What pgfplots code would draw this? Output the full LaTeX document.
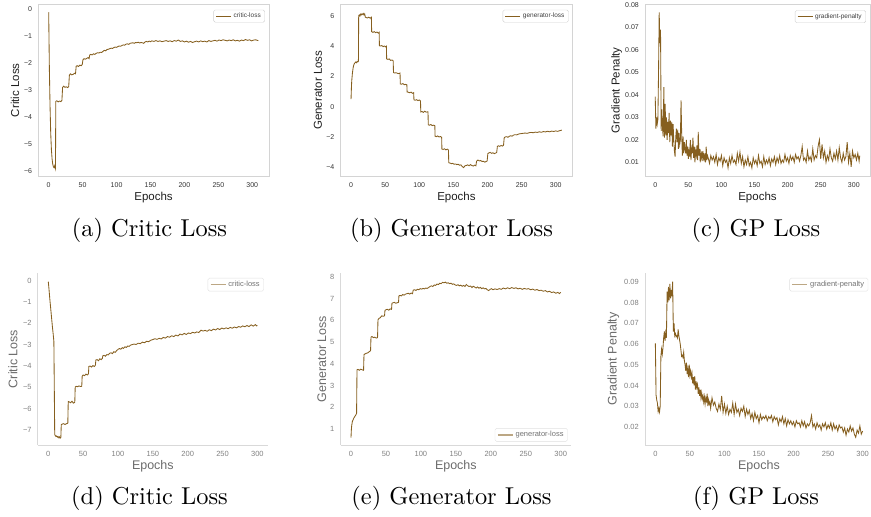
\documentclass[border=0pt]{standalone}
\usepackage{fontspec}
\usepackage{pgfplots}
\pgfplotsset{compat=1.18}
\newfontfamily\axfont{Liberation Sans}
\definecolor{lc}{RGB}{134,95,31}
\pgfplotsset{
  ln/.style={color=lc, line width=0.85pt, mark=none},
  gstyle/.style={scale only axis, major tick length=0pt, tick style={draw=none},
    xtick={0,50,100,150,200,250,300}, scaled ticks=false,
    /pgf/number format/assume math mode=true,
    xticklabel style={anchor=north, inner sep=0pt, yshift=-6.5pt},
    yticklabel style={anchor=east, inner sep=0pt, xshift=-6pt},
    legend cell align=left,
    legend style={rounded corners=1.5pt, fill=white, inner xsep=2pt, inner ysep=1pt},
  },
  toprow/.style={gstyle, height=171.5pt, axis line style={draw=black!17, line width=0.8pt},
    tick label style={font=\fontsize{7}{8}\axfont, text=black!80},
    label style={font=\fontsize{11.5}{13}\axfont, text=black!88},
    xlabel style={at={(axis description cs:0.5,-0.14)}, anchor=base},
    legend style={font=\fontsize{6.5}{7.5}\axfont, text=black!75, draw=black!18},
    legend image code/.code={\draw[lc, line width=1pt] (0pt,0pt) -- (15pt,0pt);},
  },
  botrow/.style={gstyle, height=172pt, axis x line*=bottom, axis y line*=left,
    axis line style={-, draw=black!15, line width=0.8pt},
    tick label style={font=\fontsize{7.5}{9}\axfont, text=black!50},
    label style={font=\fontsize{12.5}{14}\axfont, text=black!58},
    xlabel style={at={(axis description cs:0.5,-0.142)}, anchor=base},
    legend style={font=\fontsize{7.5}{8.5}\axfont, text=black!55, draw=black!12},
    legend image code/.code={\draw[lc!55, line width=1.6pt] (0pt,0pt) -- (15pt,0pt);},
  },
}
\begin{document}
\begin{tikzpicture}
\useasboundingbox (0,0) rectangle (871pt,517pt);
% (a)
\begin{axis}[toprow, at={(38.2pt,341pt)}, anchor=south west, width=230.7pt,
  xmin=-15.45, xmax=324.45, ymin=-6.185, ymax=0.167,
  ytick={-6,-5,-4,-3,-2,-1,0}, yticklabels={−6,−5,−4,−3,−2,−1,0},
  xlabel={Epochs}, ylabel={Critic Loss},
  ylabel style={at={(axis description cs:-0.1006,0.5)}, anchor=center},
  legend style={at={(0.983,0.969)}, anchor=north east}]
\addplot[ln] coordinates {(0,-0.12) (1,-2.2) (2,-3.6) (3,-4.6) (4,-5.2) (5,-5.55) (6,-5.75) (7,-5.85) (8,-5.88) (9,-5.80) (10,-5.90)
(10.5,-3.42) (12,-3.40) (14,-3.44) (16,-3.41) (18,-3.43) (19.5,-3.38) (20.5,-2.90) (22,-2.86) (24,-2.90) (26,-2.88) (28,-2.91) (29.5,-2.87)
(30.5,-2.45) (32,-2.40) (34,-2.44) (36,-2.42) (38,-2.38) (39.5,-2.40) (40.5,-2.12) (42,-2.10) (44,-2.13) (46,-2.08) (48,-2.10) (49.5,-2.05)
(50.5,-1.88) (52,-1.84) (54,-1.86) (56,-1.83) (58,-1.80) (59.5,-1.84) (60.5,-1.70) (62,-1.68) (64,-1.70) (66,-1.66) (68,-1.68) (70,-1.64)
(72,-1.62) (74,-1.63) (76,-1.60) (78,-1.61) (80,-1.57) (82,-1.53) (84,-1.55) (86,-1.50) (88,-1.49) (90,-1.47) (92,-1.45) (94,-1.46)
(96,-1.43) (98,-1.41) (100,-1.42) (102,-1.39) (104,-1.37) (106,-1.38) (108,-1.35) (110,-1.33) (112,-1.34) (114,-1.30) (116,-1.29)
(118,-1.31) (120,-1.27) (122,-1.26) (124,-1.25) (126,-1.27) (128,-1.24) (130,-1.25) (132,-1.23) (134,-1.26) (136,-1.24) (138,-1.25)
(140,-1.27) (142,-1.22) (144,-1.20) (146,-1.22) (148,-1.19) (150,-1.21) (152,-1.18) (155,-1.20) (158,-1.17) (161,-1.20) (164,-1.18)
(167,-1.21) (170,-1.19) (173,-1.17) (176,-1.20) (179,-1.18) (182,-1.21) (185,-1.17) (188,-1.19) (191,-1.15) (194,-1.20) (197,-1.18)
(200,-1.22) (203,-1.19) (206,-1.23) (209,-1.20) (212,-1.24) (215,-1.21) (218,-1.19) (221,-1.22) (224,-1.18) (227,-1.21) (230,-1.19)
(233,-1.22) (236,-1.17) (239,-1.20) (242,-1.18) (245,-1.16) (248,-1.19) (251,-1.15) (254,-1.17) (257,-1.14) (260,-1.16) (263,-1.18)
(266,-1.15) (269,-1.17) (272,-1.14) (275,-1.18) (278,-1.16) (281,-1.19) (284,-1.15) (287,-1.17) (290,-1.13) (293,-1.16) (296,-1.14)
(299,-1.18) (302,-1.15) (305,-1.14) (307,-1.16) (309,-1.17)};
\addlegendentry{critic-loss}
\end{axis}
% (b)
\begin{axis}[toprow, at={(340.5pt,341pt)}, anchor=south west, width=231.9pt,
  xmin=-15.45, xmax=324.45, ymin=-4.574, ymax=6.739,
  ytick={-4,-2,0,2,4,6}, yticklabels={−4,−2,0,2,4,6},
  xlabel={Epochs}, ylabel={Generator Loss},
  ylabel style={at={(axis description cs:-0.097,0.5)}, anchor=center},
  legend style={at={(0.984,0.969)}, anchor=north east}]
\addplot[ln] coordinates {(0,0.50) (0.5,1.2) (1,1.7) (2,2.2) (3,2.55) (4,2.75) (5,2.85) (6,2.90) (7,2.95) (8,2.90) (9,2.98) (10,2.95)
(10.8,3.00) (11.2,6.00) (12,6.05) (13,5.98) (14,6.10) (15,6.05) (16,6.12) (17,6.08) (18,6.15) (19,6.05) (20,6.12) (21,5.90) (22,5.88)
(24,5.85) (26,5.90) (28,5.84) (29.8,5.90) (30.2,4.95) (32,4.90) (34,4.95) (36,4.88) (38,4.92) (40,4.85) (41.2,4.90) (41.6,4.02) (43,4.00)
(45,4.03) (47,3.96) (49,4.00) (51,3.94) (51.8,3.98) (52.2,3.15) (54,3.12) (56,3.15) (58,3.05) (60,3.08) (61.8,3.02) (62.2,2.25) (64,2.22)
(66,2.24) (68,2.20) (70,2.18) (71.8,2.22) (72.2,1.50) (74,1.48) (76,1.52) (78,1.45) (80,1.47) (81.8,1.44) (82.2,0.97) (84,0.95) (86,0.92)
(88,0.96) (90,0.88) (91.8,0.92) (92.2,0.45) (94,0.42) (96,0.46) (98,0.40) (100,0.44) (101.8,0.38) (102.2,-0.35) (104,-0.32) (106,-0.38)
(108,-0.30) (110,-0.36) (112.8,-0.34) (113.2,-1.20) (115,-1.22) (117,-1.18) (119,-1.25) (121,-1.22) (122.8,-1.26) (123.2,-1.95)
(125,-1.98) (127,-1.93) (129,-2.00) (131,-1.97) (132.8,-2.02) (133.2,-2.80) (135,-2.82) (137,-2.78) (139,-2.85) (141,-2.80) (142.8,-2.86)
(143.2,-3.70) (145,-3.72) (147,-3.76) (149,-3.74) (151,-3.80) (153,-3.78) (155,-3.82) (157,-3.80) (159,-3.86) (161,-3.84) (163,-3.95)
(165,-4.02) (167,-3.90) (169,-3.88) (171,-3.84) (173,-3.90) (175,-3.82) (177,-3.88) (179,-3.92) (181,-3.86) (183,-3.90) (184,-3.60)
(186,-3.52) (188,-3.58) (190,-3.55) (192,-3.62) (194,-3.60) (196,-3.66) (198,-3.62) (199.5,-3.58) (200.5,-3.10) (202,-3.05) (204,-3.02)
(206,-3.08) (208,-3.04) (210,-3.10) (212,-3.06) (213.5,-3.02) (214.5,-2.62) (216,-2.58) (218,-2.62) (220,-2.56) (222,-2.60) (223.5,-2.55)
(224.5,-2.05) (226,-2.00) (228,-1.98) (230,-2.02) (232,-1.95) (234,-1.92) (236,-1.95) (238,-1.88) (240,-1.85) (243,-1.86) (246,-1.80)
(249,-1.78) (252,-1.76) (255,-1.74) (258,-1.76) (261,-1.72) (264,-1.70) (267,-1.72) (270,-1.68) (273,-1.70) (276,-1.66) (279,-1.69)
(282,-1.64) (285,-1.67) (288,-1.62) (291,-1.66) (294,-1.61) (297,-1.64) (300,-1.60) (303,-1.63) (306,-1.58) (309,-1.55)};
\addlegendentry{generator-loss}
\end{axis}
% (c)
\begin{axis}[toprow, at={(645pt,341pt)}, anchor=south west, width=225pt,
  xmin=-15.45, xmax=324.45, ymin=0.003904, ymax=0.08022,
  ytick={0.01,0.02,0.03,0.04,0.05,0.06,0.07,0.08}, yticklabels={0.01,0.02,0.03,0.04,0.05,0.06,0.07,0.08},
  xlabel={Epochs}, ylabel={Gradient Penalty},
  ylabel style={at={(axis description cs:-0.1258,0.5)}, anchor=center},
  legend style={at={(0.982,0.966)}, anchor=north east}]
\addplot[ln] coordinates {(0,0.0392) (1,0.0250) (2,0.0300) (3,0.0270) (4,0.0290) (5,0.0500) (6,0.0767) (7,0.0630) (8,0.0690) (9,0.0240)
(10,0.0335) (11,0.0250) (12,0.0215) (13,0.0435) (14,0.0210) (15,0.0360) (16,0.0220) (17,0.0300) (18,0.0200) (19,0.0280) (20,0.0230)
(21,0.0320) (22,0.0190) (23,0.0285) (24,0.0220) (25,0.0280) (26,0.0170) (27,0.0270) (28,0.0200) (29,0.0150) (30,0.0125) (31,0.0210)
(32,0.0250) (33,0.0190) (34,0.0245) (35,0.0160) (36,0.0230) (37,0.0180) (38,0.0200) (39,0.0375) (40,0.0220) (41,0.0130) (42,0.0215)
(43,0.0140) (44,0.0190) (45,0.0160) (46,0.0140) (47,0.0200) (48,0.0130) (49,0.0170) (50,0.0115) (51,0.0150) (52,0.0125) (53,0.0200)
(54,0.0110) (55,0.0160) (56,0.0140) (57,0.0210) (58,0.0120) (59,0.0170) (60,0.0100) (61,0.0150) (62,0.0130) (63,0.0175) (64,0.0110)
(65,0.0235) (66,0.0130) (67,0.0160) (68,0.0100) (69,0.0140) (70,0.0120) (71,0.0150) (72,0.0105) (73,0.0135) (74,0.0115) (75,0.0140)
(76,0.0100) (77,0.0170) (78,0.0110) (79,0.0130) (80,0.0120) (82,0.0095) (84,0.0130) (86,0.0110) (88,0.0125) (90,0.0100) (92,0.0135)
(94,0.0090) (96,0.0120) (98,0.0105) (100,0.0130) (102,0.0085) (104,0.0120) (106,0.0100) (108,0.0110) (110,0.0075) (112,0.0120)
(114,0.0095) (116,0.0130) (118,0.0100) (120,0.0110) (122,0.0090) (124,0.0140) (126,0.0105) (128,0.0145) (130,0.0095) (132,0.0125)
(134,0.0080) (136,0.0110) (138,0.0090) (140,0.0125) (142,0.0085) (144,0.0100) (146,0.0075) (148,0.0120) (150,0.0095) (152,0.0110)
(154,0.0085) (156,0.0130) (158,0.0095) (160,0.0105) (162,0.0080) (164,0.0125) (166,0.0090) (168,0.0110) (170,0.0095) (172,0.0120)
(174,0.0085) (176,0.0115) (178,0.0100) (180,0.0125) (182,0.0090) (184,0.0120) (186,0.0100) (188,0.0130) (190,0.0095) (192,0.0110)
(194,0.0100) (196,0.0135) (198,0.0105) (200,0.0120) (202,0.0095) (204,0.0130) (206,0.0110) (208,0.0125) (210,0.0100) (212,0.0135)
(214,0.0115) (216,0.0125) (218,0.0105) (220,0.0130) (222,0.0170) (224,0.0110) (226,0.0120) (228,0.0100) (230,0.0150) (232,0.0110)
(234,0.0125) (236,0.0105) (238,0.0160) (240,0.0110) (242,0.0130) (244,0.0120) (246,0.0170) (248,0.0200) (250,0.0115) (252,0.0180)
(254,0.0120) (256,0.0150) (258,0.0100) (260,0.0130) (262,0.0110) (264,0.0160) (266,0.0120) (268,0.0105) (270,0.0140) (272,0.0115)
(274,0.0150) (276,0.0110) (278,0.0165) (280,0.0120) (282,0.0100) (284,0.0140) (286,0.0110) (288,0.0125) (290,0.0190) (292,0.0100)
(294,0.0140) (296,0.0080) (298,0.0150) (300,0.0120) (302,0.0135) (304,0.0110) (306,0.0140) (308,0.0105) (309,0.0130)};
\addlegendentry{gradient-penalty}
\end{axis}
% (d)
\begin{axis}[botrow, at={(37.85pt,72pt)}, anchor=south west, width=230pt,
  xmin=-15, xmax=315, ymin=-7.70, ymax=0.36,
  ytick={-7,-6,-5,-4,-3,-2,-1,0}, yticklabels={−7,−6,−5,−4,−3,−2,−1,0},
  xlabel={Epochs}, ylabel={Critic Loss},
  ylabel style={at={(axis description cs:-0.108,0.5)}, anchor=center},
  legend style={at={(0.983,0.971)}, anchor=north east}]
\addplot[ln] coordinates {(0,-0.05) (1,-0.40) (2,-0.80) (3,-1.15) (4,-1.50) (5,-1.85) (6,-2.20) (7,-2.50) (8,-2.85) (9.2,-7.22) (10,-7.25)
(11,-7.30) (12,-7.28) (13,-7.33) (14,-7.30) (15,-7.36) (16,-7.32) (17,-7.38) (18,-7.34) (18.6,-6.75) (20,-6.72) (22,-6.70) (24,-6.74)
(26,-6.70) (28,-6.68) (28.6,-5.66) (30,-5.68) (32,-5.72) (34,-5.65) (36,-5.74) (38,-5.70) (38.6,-4.98) (40,-4.95) (42,-4.97) (44,-4.93)
(46,-4.96) (48,-4.95) (48.6,-4.48) (50,-4.42) (52,-4.45) (54,-4.38) (56,-4.42) (57.6,-4.36) (58.2,-4.02) (60,-4.00) (62,-4.05) (64,-3.98)
(66,-4.02) (67.6,-3.96) (68.2,-3.72) (70,-3.70) (72,-3.75) (74,-3.66) (76,-3.70) (77.6,-3.64) (78.2,-3.52) (80,-3.50) (82,-3.54)
(84,-3.46) (86,-3.48) (88,-3.40) (90,-3.38) (92,-3.42) (94,-3.33) (96,-3.36) (98,-3.28) (100,-3.22) (102,-3.18) (104,-3.21) (106,-3.14)
(108,-3.17) (110,-3.10) (112,-3.13) (114,-3.06) (116,-3.08) (118,-3.02) (120,-3.00) (123,-2.97) (126,-2.99) (129,-2.93) (132,-2.95)
(135,-2.88) (138,-2.91) (141,-2.84) (144,-2.86) (147,-2.79) (150,-2.76) (153,-2.72) (156,-2.75) (159,-2.70) (162,-2.73) (165,-2.66)
(168,-2.69) (171,-2.62) (174,-2.65) (177,-2.58) (180,-2.62) (183,-2.55) (186,-2.59) (189,-2.50) (192,-2.54) (195,-2.47) (198,-2.52)
(201,-2.45) (204,-2.48) (207,-2.42) (210,-2.45) (213,-2.40) (216,-2.43) (219,-2.32) (222,-2.36) (225,-2.33) (228,-2.37) (231,-2.30)
(234,-2.34) (237,-2.27) (240,-2.31) (243,-2.24) (246,-2.29) (249,-2.22) (252,-2.26) (255,-2.21) (258,-2.25) (261,-2.19) (264,-2.23)
(267,-2.17) (270,-2.21) (273,-2.15) (276,-2.18) (279,-2.12) (282,-2.16) (285,-2.10) (288,-2.15) (291,-2.07) (294,-2.13) (297,-2.06)
(299,-2.12) (300,-2.10)};
\addlegendentry{critic-loss}
\end{axis}
% (e)
\begin{axis}[botrow, at={(340.5pt,72pt)}, anchor=south west, width=230.7pt,
  xmin=-15, xmax=315, ymin=0.265, ymax=8.17,
  ytick={1,2,3,4,5,6,7,8},
  xlabel={Epochs}, ylabel={Generator Loss},
  ylabel style={at={(axis description cs:-0.0815,0.5)}, anchor=center},
  legend style={at={(0.985,0.02)}, anchor=south east}]
\addplot[ln] coordinates {(0,0.60) (0.5,0.95) (1,1.15) (2,1.35) (3,1.42) (4,1.50) (5,1.55) (6,1.60) (7,1.65) (8,1.72) (8.6,3.72) (10,3.74)
(12,3.70) (14,3.75) (16,3.72) (18,3.70) (18.6,4.42) (20,4.45) (22,4.48) (24,4.50) (26,4.55) (28,4.60) (28.6,5.22) (30,5.25) (32,5.20)
(34,5.22) (36,5.18) (38,5.20) (38.6,6.02) (40,6.08) (42,6.12) (44,6.20) (46,6.18) (48,6.20) (48.6,6.45) (50,6.48) (52,6.50) (54,6.46)
(56,6.52) (58,6.50) (58.6,6.78) (60,6.80) (62,6.82) (64,6.78) (66,6.80) (68,6.82) (68.6,7.12) (70,7.14) (72,7.12) (74,7.18) (76,7.15)
(78,7.20) (80,7.22) (82,7.24) (84,7.20) (86,7.25) (88,7.22) (89,7.38) (91,7.40) (93,7.37) (95,7.42) (97,7.40) (99,7.45) (101,7.43)
(103,7.46) (105,7.44) (107,7.48) (109,7.46) (111,7.50) (113,7.55) (115,7.58) (117,7.55) (119,7.62) (121,7.60) (123,7.66) (125,7.64)
(127,7.70) (129,7.68) (131,7.74) (133,7.72) (135,7.75) (137,7.70) (139,7.72) (141,7.68) (143,7.70) (145,7.65) (147,7.67) (149,7.62)
(151,7.60) (153,7.63) (155,7.58) (157,7.61) (159,7.56) (161,7.60) (163,7.55) (165,7.64) (167,7.58) (169,7.55) (171,7.57) (173,7.50)
(175,7.56) (177,7.52) (179,7.48) (181,7.53) (183,7.47) (185,7.51) (187,7.45) (189,7.49) (191,7.44) (193,7.46) (195,7.40) (197,7.36)
(199,7.42) (201,7.45) (203,7.40) (206,7.44) (209,7.41) (212,7.45) (215,7.42) (218,7.48) (221,7.44) (224,7.49) (227,7.45) (230,7.50)
(233,7.46) (236,7.49) (239,7.44) (242,7.47) (245,7.42) (248,7.46) (251,7.43) (254,7.45) (257,7.40) (260,7.43) (263,7.38) (266,7.41)
(269,7.36) (272,7.38) (275,7.33) (278,7.36) (281,7.30) (284,7.33) (287,7.27) (290,7.30) (293,7.24) (296,7.28) (298,7.22) (300,7.28)};
\addlegendentry{generator-loss}
\end{axis}
% (f)
\begin{axis}[botrow, at={(645pt,72pt)}, anchor=south west, width=228pt,
  xmin=-15, xmax=315, ymin=0.0113, ymax=0.0942,
  ytick={0.02,0.03,0.04,0.05,0.06,0.07,0.08,0.09}, yticklabels={0.02,0.03,0.04,0.05,0.06,0.07,0.08,0.09},
  xlabel={Epochs}, ylabel={Gradient Penalty},
  ylabel style={at={(axis description cs:-0.139,0.5)}, anchor=center},
  legend style={at={(0.979,0.971)}, anchor=north east}]
\addplot[ln] coordinates {(0,0.0603) (1,0.0354) (2,0.0330) (3,0.0315) (4,0.0275) (5,0.0290) (6,0.0272) (7,0.0300) (8,0.0540) (9,0.0575)
(10,0.0550) (11,0.0580) (12,0.0630) (13,0.0660) (14,0.0615) (15,0.0655) (16,0.0630) (17,0.0852) (18,0.0800) (19,0.0875) (20,0.0810)
(21,0.0890) (22,0.0820) (23,0.0860) (24,0.0830) (25,0.0900) (26,0.0660) (27,0.0700) (28,0.0640) (29,0.0650) (30,0.0635) (31,0.0640)
(32,0.0630) (33,0.0670) (34,0.0640) (35,0.0620) (36,0.0600) (37,0.0570) (38,0.0540) (39,0.0545) (40,0.0535) (41,0.0560) (42,0.0520)
(43,0.0500) (44,0.0470) (45,0.0510) (46,0.0455) (47,0.0480) (48,0.0440) (49,0.0500) (50,0.0450) (51,0.0470) (52,0.0440) (53,0.0460)
(54,0.0410) (55,0.0440) (56,0.0400) (57,0.0445) (58,0.0380) (59,0.0420) (60,0.0390) (61,0.0405) (62,0.0360) (63,0.0390) (64,0.0350)
(65,0.0380) (66,0.0340) (67,0.0365) (68,0.0335) (69,0.0350) (70,0.0320) (71,0.0345) (72,0.0310) (73,0.0340) (74,0.0325) (75,0.0360)
(76,0.0300) (77,0.0330) (78,0.0310) (79,0.0320) (80,0.0290) (82,0.0340) (84,0.0305) (86,0.0320) (88,0.0290) (90,0.0275) (92,0.0310)
(94,0.0285) (96,0.0350) (98,0.0270) (100,0.0310) (102,0.0265) (104,0.0300) (106,0.0260) (108,0.0285) (110,0.0270) (112,0.0315)
(114,0.0260) (116,0.0310) (118,0.0270) (120,0.0285) (122,0.0255) (124,0.0290) (126,0.0275) (128,0.0300) (130,0.0250) (132,0.0285)
(134,0.0260) (136,0.0280) (138,0.0240) (140,0.0265) (142,0.0230) (144,0.0270) (146,0.0240) (148,0.0255) (150,0.0220) (152,0.0260)
(154,0.0235) (156,0.0250) (158,0.0240) (160,0.0255) (162,0.0230) (164,0.0250) (166,0.0240) (168,0.0255) (170,0.0225) (172,0.0250)
(174,0.0235) (176,0.0245) (178,0.0210) (180,0.0240) (182,0.0225) (184,0.0250) (186,0.0215) (188,0.0240) (190,0.0205) (192,0.0235)
(194,0.0215) (196,0.0230) (198,0.0210) (200,0.0225) (202,0.0200) (204,0.0230) (206,0.0215) (208,0.0220) (210,0.0200) (212,0.0230)
(214,0.0205) (216,0.0225) (218,0.0195) (220,0.0215) (222,0.0205) (224,0.0220) (226,0.0255) (228,0.0200) (230,0.0215) (232,0.0190)
(234,0.0220) (236,0.0200) (238,0.0210) (240,0.0185) (242,0.0215) (244,0.0200) (246,0.0220) (248,0.0190) (250,0.0210) (252,0.0195)
(254,0.0220) (256,0.0185) (258,0.0215) (260,0.0190) (262,0.0205) (264,0.0180) (266,0.0210) (268,0.0195) (270,0.0200) (272,0.0175)
(274,0.0195) (276,0.0160) (278,0.0190) (280,0.0175) (282,0.0205) (284,0.0180) (286,0.0195) (288,0.0165) (290,0.0150) (292,0.0185)
(294,0.0170) (296,0.0205) (298,0.0165) (300,0.0180)};
\addlegendentry{gradient-penalty}
\end{axis}
% captions
\node[anchor=base, scale=2.44, inner sep=0pt] at (149.5pt,280.3pt) {\fontsize{10}{12}\selectfont (a) Critic Loss};
\node[anchor=base, scale=2.44, inner sep=0pt] at (451.5pt,280.3pt) {\fontsize{10}{12}\selectfont (b) Generator Loss};
\node[anchor=base, scale=2.44, inner sep=0pt] at (756pt,280.3pt) {\fontsize{10}{12}\selectfont (c) GP Loss};
\node[anchor=base, scale=2.44, inner sep=0pt] at (149.5pt,12pt) {\fontsize{10}{12}\selectfont (d) Critic Loss};
\node[anchor=base, scale=2.44, inner sep=0pt] at (451.5pt,12pt) {\fontsize{10}{12}\selectfont (e) Generator Loss};
\node[anchor=base, scale=2.44, inner sep=0pt] at (756pt,12pt) {\fontsize{10}{12}\selectfont (f) GP Loss};
\end{tikzpicture}
\end{document}
